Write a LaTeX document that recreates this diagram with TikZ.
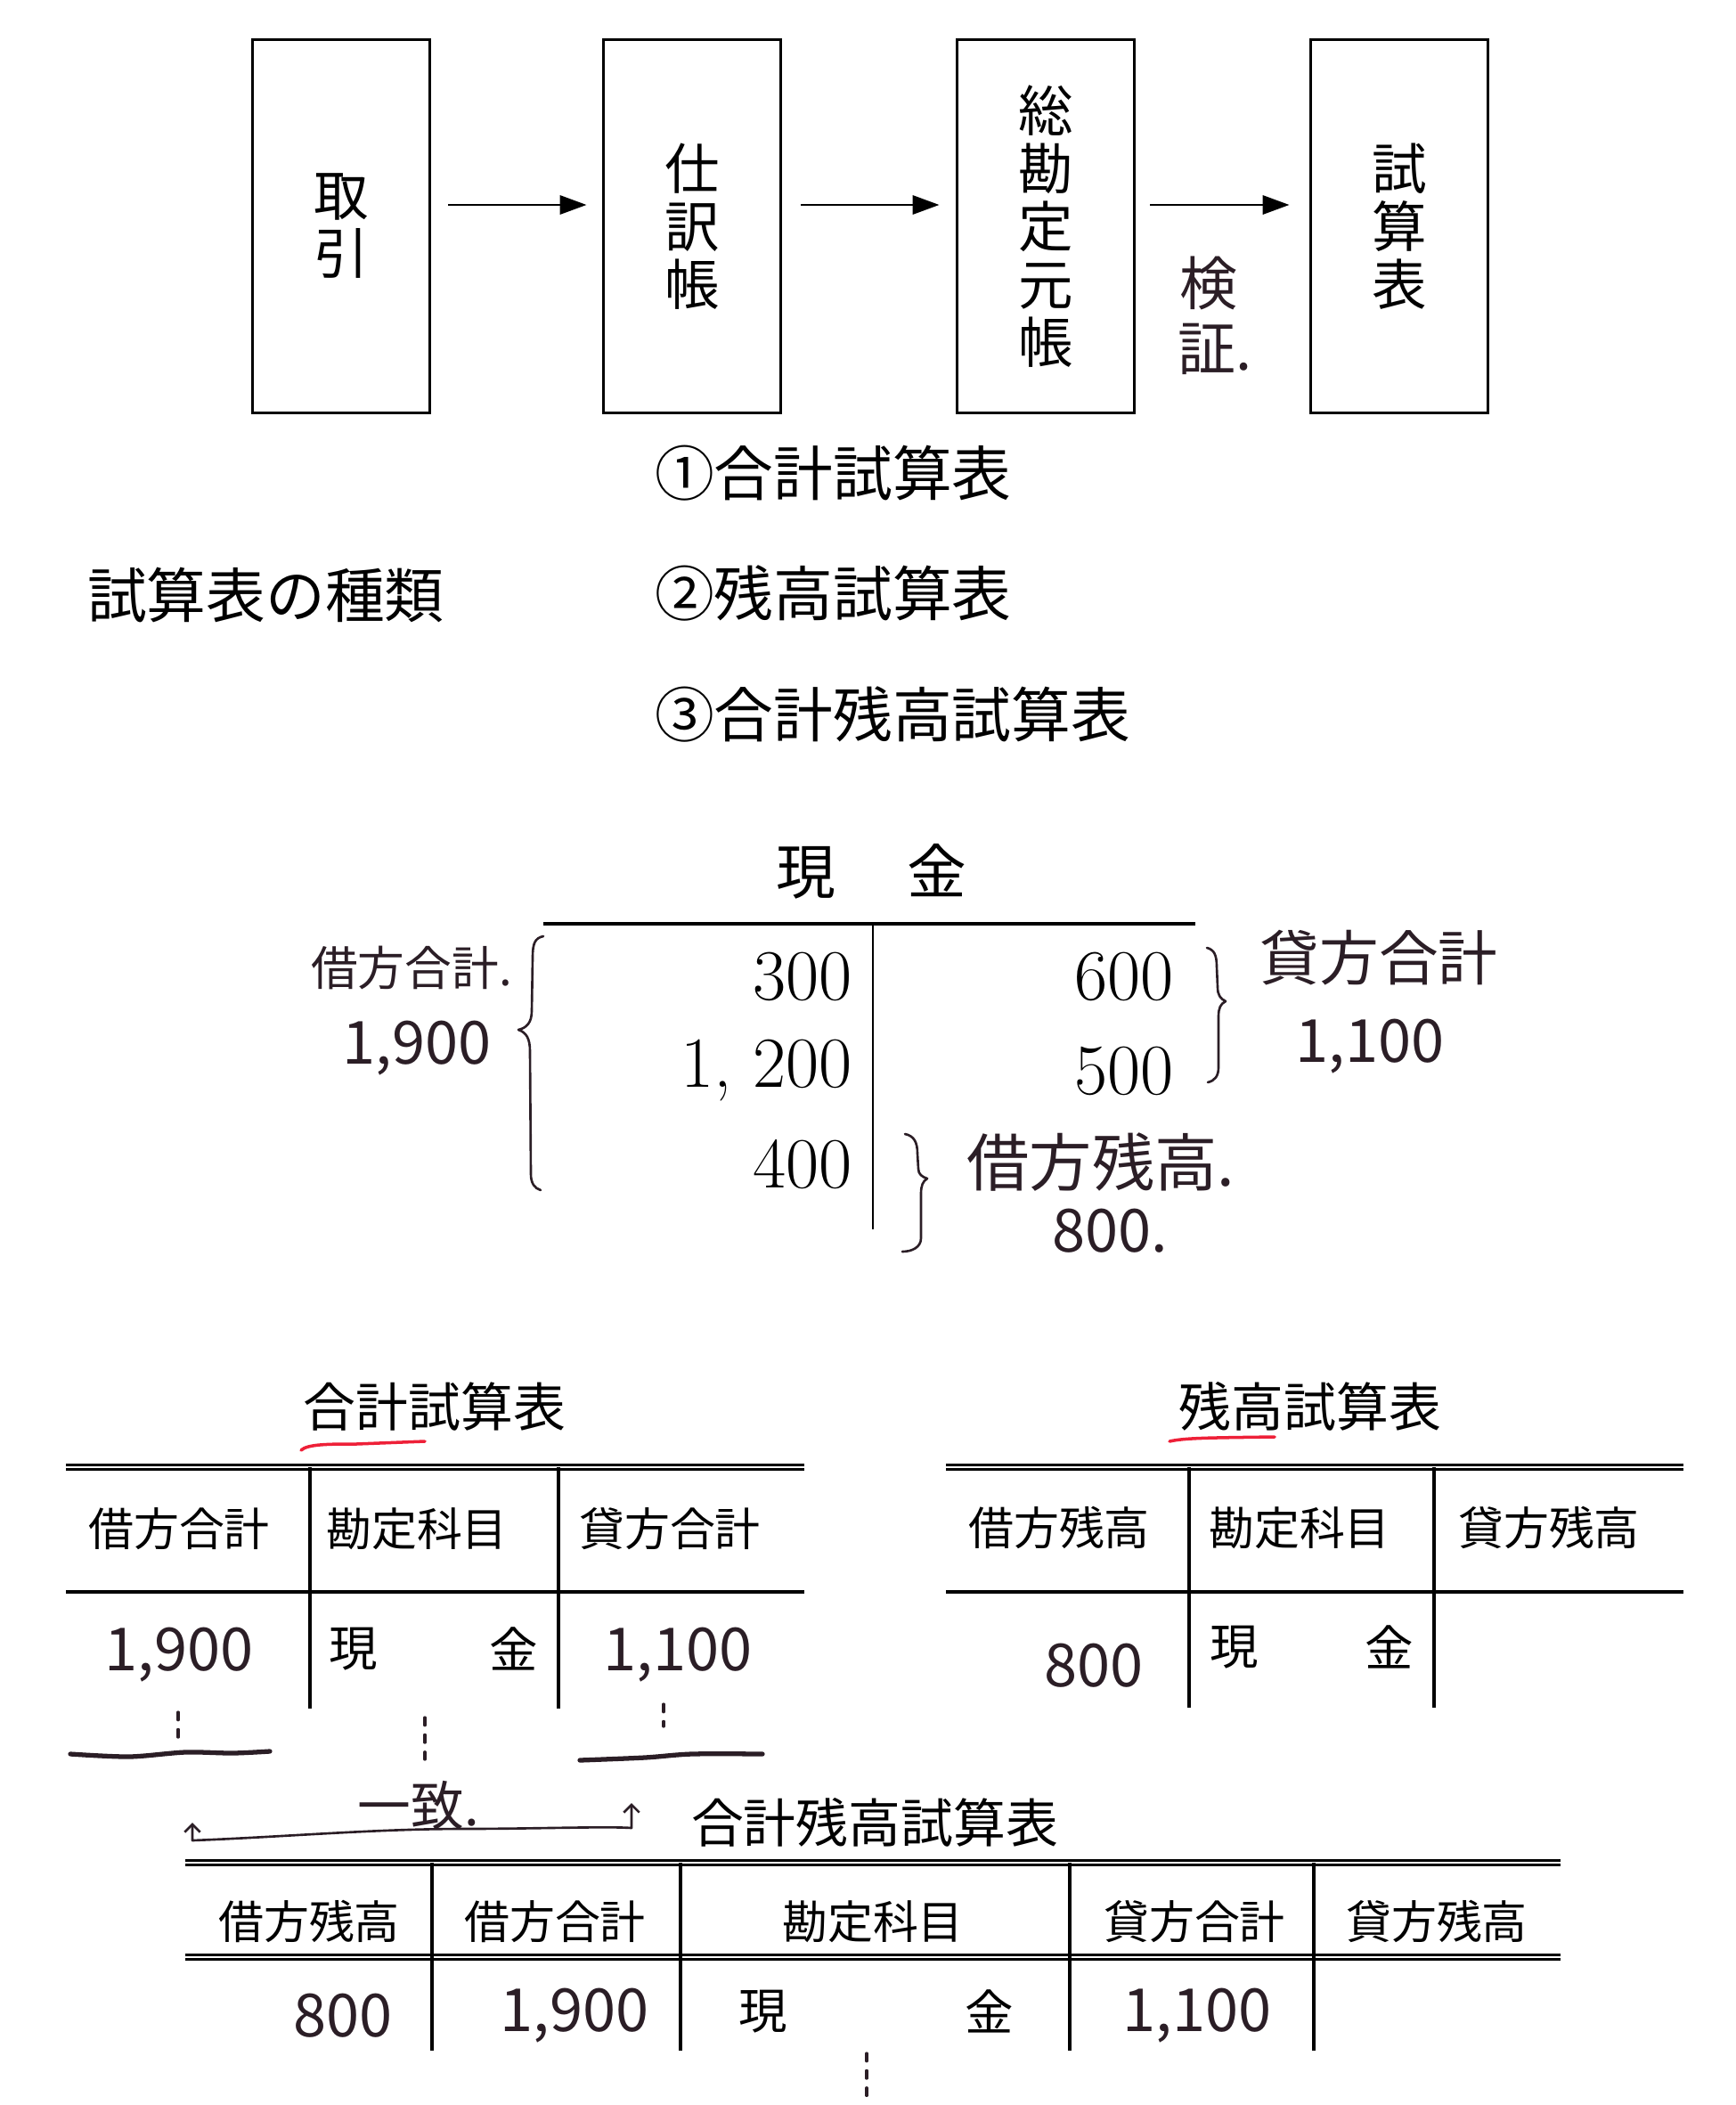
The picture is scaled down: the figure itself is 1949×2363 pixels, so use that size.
\documentclass[tikz,border=0pt]{standalone}
\usepackage{fontspec}
\usepackage{tikz}
\usetikzlibrary{positioning}
\usetikzlibrary{calc,arrows.meta}
\newfontfamily\jp{Noto Sans CJK JP}
\newcommand{\hsz}[1]{\jp\fontsize{#1}{#1}\selectfont}
\definecolor{handink}{HTML}{2B1E26}
\definecolor{redpen}{HTML}{EE2038}

\begin{document}
\begin{tikzpicture}[x=0.02cm,y=-0.02cm,every node/.style={inner sep=0pt,outer sep=0pt}]

\tikzstyle{flowbox}=[draw,line width=1.7pt,minimum width=3.98cm,minimum height=8.38cm,align=center,font=\jp\fontsize{35}{37}\selectfont]
\tikzstyle{flow}=[line width=1.7pt,-{Triangle[length=17pt,width=12pt]}]
\tikzstyle{list}=[anchor=west,font=\jp\fontsize{38}{40}\selectfont]
\tikzstyle{num}=[anchor=east,font=\fontsize{46}{48}\selectfont]
\tikzstyle{ttl}=[font=\jp\fontsize{33.5}{35}\selectfont]
\tikzstyle{hdr}=[font=\jp\fontsize{29}{31}\selectfont]
\tikzstyle{cell}=[font=\jp\fontsize{31}{33}\selectfont]
\tikzstyle{hand}=[text=handink,font=\jp]
\tikzstyle{handline}=[draw=handink,line width=1.5pt,line cap=round,line join=round]
\tikzstyle{thickpen}=[handline,line width=3pt]
\tikzstyle{dots}=[handline,line width=1.8pt,dash pattern=on 5pt off 6pt]
\tikzstyle{redmark}=[draw=redpen,line width=2pt,line cap=round]
\tikzstyle{tabrule}=[line width=2.2pt]
\tikzstyle{dbl}=[double,line width=1.8pt,double distance=0.9pt]

\useasboundingbox (0,0) rectangle (1949,2363);
%\draw[gray,very thin] (0,0) grid[xstep=100,ystep=100] (1949,2363);

% flow of the books
\begin{scope}[]
\node (trans) [flowbox] at (383,254) {取\\引};
\node (journal) [flowbox] at (777,254) {仕\\訳\\帳};
\node (ledger) [flowbox] at (1174,254) {総\\勘\\定\\元\\帳};
\node (trial) [flowbox] at (1571,254) {試\\算\\表};

\draw [flow] ($(trans.east)+(21,-24)$) -- ($(journal.west)+(-19,-24)$);
\draw [flow] ($(journal.east)+(23,-24)$) -- ($(ledger.west)+(-20,-24)$);
\draw [flow] ($(ledger.east)+(18,-24)$) -- ($(trial.west)+(-24,-24)$);

\node (ken) [hand,font=\hsz{37}] at (1357,318) {検};
\node (sho) [hand,font=\hsz{37},anchor=west] at (1322,392) {証.};
\end{scope}

% kinds
\node (kinds) [list] at (98,668) {試算表の種類};
\node (kind1) [list] at (735,531) {①合計試算表};
\node (kind2) [list] at ($(kind1.west)+(0,135)$) {②残高試算表};
\node (kind3) [list] at ($(kind1.west)+(0,271)$) {③合計残高試算表};

% T account
\begin{scope}[]
\node (cash) [font=\jp\fontsize{38}{40}\selectfont] at (978,978) {現\hspace{1.6cm}金};
\coordinate (tl) at (610,1037);
\coordinate (tr) at (1342,1037);
\coordinate (tm) at (980,1037);
\coordinate (tb) at (980,1380);
\draw [line width=1.8pt] (tl) -- (tr);
\draw [line width=1.1pt] (tm) -- (tb);

\node (dr1) [num] at (957,1096) {300};
\node (dr2) [num] at (957,1202) {1,\ 200};
\node (dr3) [num] at (957,1307) {400};
\node (cr1) [num] at (1318,1096) {600};
\node (cr2) [num] at (1318,1202) {500};

\node (drsum) [hand,font=\hsz{30}] at (462,1086) {借方合計.};
\node (drsumv) [hand,font=\hsz{38}] at (468,1177) {1,900};
\node (crsum) [hand,font=\hsz{38}] at (1548,1075) {貸方合計};
\node (crsumv) [hand,font=\hsz{38}] at (1538,1175) {1,100};
\node (drbal) [hand,font=\hsz{40}] at (1236,1305) {借方残高.};
\node (drbalv) [hand,font=\hsz{38}] at (1246,1382) {800.};

\draw [handline] (610,1051) .. controls (600,1053) and (598,1060) .. (598,1075) -- (597,1135) .. controls (597,1148) and (591,1154) .. (582,1156) .. controls (591,1159) and (595,1166) .. (595,1180) -- (596,1318) .. controls (596,1328) and (600,1334) .. (607,1336);
\draw [handline] (1355,1064) .. controls (1363,1066) and (1366,1072) .. (1366,1085) -- (1367,1108) .. controls (1367,1117) and (1370,1121) .. (1376,1124) .. controls (1370,1127) and (1368,1132) .. (1368,1141) -- (1368,1198) .. controls (1368,1208) and (1364,1213) .. (1356,1215);
\draw [handline] (1016,1273) .. controls (1026,1275) and (1030,1282) .. (1030,1295) -- (1031,1312) .. controls (1031,1318) and (1035,1321) .. (1041,1323) .. controls (1036,1326) and (1034,1331) .. (1034,1340) -- (1034,1390) .. controls (1034,1400) and (1024,1405) .. (1013,1405);
\end{scope}

% trial balance of totals
\begin{scope}[]
\node (sumtb) [ttl] at (488,1579) {合計試算表};
\draw [redmark] (338,1628) .. controls (345,1621) and (370,1621) .. (400,1621) -- (477,1618);
\draw [dbl] (74,1647) -- (903,1647);
\draw [tabrule] (74,1787) -- (903,1787);
\draw [tabrule] (348,1647) -- (348,1918);
\draw [tabrule] (627,1647) -- (627,1918);
\node (sumh1) [hdr] at (201,1716) {借方合計};
\node (sumh2) [hdr] at (468,1716) {勘定科目};
\node (sumh3) [hdr] at (752,1716) {貸方合計};
\node (sumdr) [hand,font=\hsz{38}] at (201,1858) {1,900};
\node (sumacc1) [cell] at (397,1851) {現};
\node (sumacc2) [cell] at (577,1851) {金};
\node (sumcr) [hand,font=\hsz{38}] at (761,1858) {1,100};

\draw [dots] (200,1922) -- (200,1955);
\draw [dots] (477,1928) -- (477,1975);
\draw [dots] (745,1913) -- (745,1938);
\draw [thickpen] plot[smooth] coordinates {(79,1969) (145,1972) (208,1967) (261,1968) (303,1966)};
\draw [thickpen] plot[smooth] coordinates {(651,1976) (724,1973) (777,1969) (856,1969)};
\end{scope}

% trial balance of balances
\begin{scope}[]
\node (baltb) [ttl] at (1471,1579) {残高試算表};
\draw [redmark] (1313,1618) .. controls (1330,1614) and (1360,1614) .. (1431,1613);
\draw [dbl] (1062,1647) -- (1890,1647);
\draw [tabrule] (1062,1787) -- (1890,1787);
\draw [tabrule] (1335,1647) -- (1335,1917);
\draw [tabrule] (1610,1647) -- (1610,1917);
\node (balh1) [hdr] at (1189,1715) {借方残高};
\node (balh2) [hdr] at (1459,1715) {勘定科目};
\node (balh3) [hdr] at (1739,1715) {貸方残高};
\node (baldr) [hand,font=\hsz{38}] at (1228,1870) {800};
\node (balacc1) [cell] at (1386,1849) {現};
\node (balacc2) [cell] at (1560,1849) {金};
\end{scope}

% combined trial balance
\begin{scope}[]
\node (bothtb) [ttl] at (982,2046) {合計残高試算表};
\node (match) [hand,font=\hsz{34}] at (470,2027) {一致.};
\draw [handline,{Straight Barb[length=5pt,width=10pt]}-{Straight Barb[length=5pt,width=10pt]}] (216,2046) -- (216,2066) .. controls (320,2062) and (420,2053) .. (520,2053) .. controls (600,2053) and (680,2050) .. (709,2052) -- (709,2024);
\draw [dbl] (208,2091) -- (1752,2091);
\draw [dbl] (208,2197) -- (1752,2197);
\draw [tabrule] (485,2091) -- (485,2302);
\draw [tabrule] (764,2091) -- (764,2302);
\draw [tabrule] (1201,2091) -- (1201,2302);
\draw [tabrule] (1475,2091) -- (1475,2302);
\node (bh1) [hdr] at (347,2157) {借方残高};
\node (bh2) [hdr] at (623,2157) {借方合計};
\node (bh3) [hdr] at (980,2157) {勘定科目};
\node (bh4) [hdr] at (1341,2157) {貸方合計};
\node (bh5) [hdr] at (1613,2157) {貸方残高};
\node (bdrbal) [hand,font=\hsz{38}] at (385,2263) {800};
\node (bdrsum) [hand,font=\hsz{38}] at (645,2263) {1,900};
\node (bacc1) [cell] at (857,2258) {現};
\node (bacc2) [cell] at (1111,2258) {金};
\node (bcrsum) [hand,font=\hsz{38}] at (1344,2263) {1,100};
\draw [dots] (973,2305) -- (973,2360);
\end{scope}

\end{tikzpicture}
\end{document}
